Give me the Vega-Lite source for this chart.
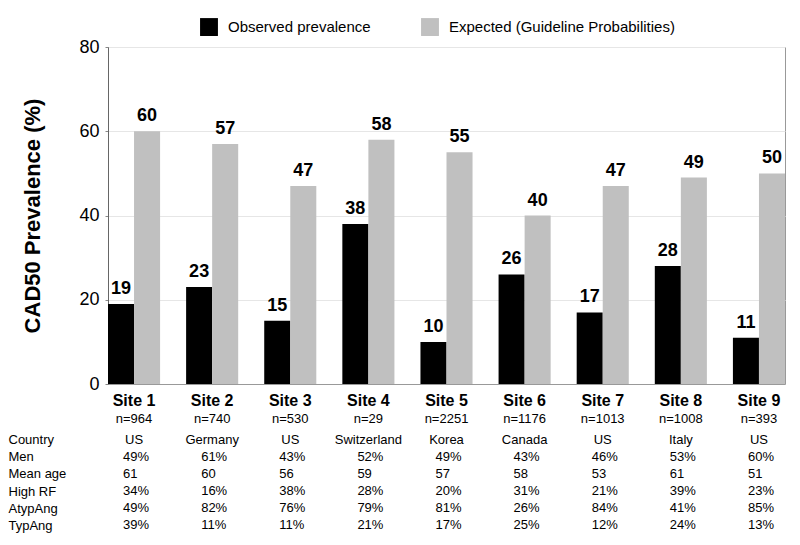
{
  "$schema": "https://vega.github.io/schema/vega-lite/v6.json",
  "padding": {"left": 8, "top": 18, "right": 5, "bottom": 5},
  "config": {
    "font": "Liberation Sans",
    "view": {"stroke": "#999"},
    "axis": {"labelColor": "#000", "titleColor": "#000"}
  },
  "spacing": 3,
  "vconcat": [
    {
      "width": 677,
      "height": 337,
      "data": {"values": [
        {"site": "Site 1", "series": "Observed prevalence", "value": 19},
        {"site": "Site 1", "series": "Expected (Guideline Probabilities)", "value": 60},
        {"site": "Site 2", "series": "Observed prevalence", "value": 23},
        {"site": "Site 2", "series": "Expected (Guideline Probabilities)", "value": 57},
        {"site": "Site 3", "series": "Observed prevalence", "value": 15},
        {"site": "Site 3", "series": "Expected (Guideline Probabilities)", "value": 47},
        {"site": "Site 4", "series": "Observed prevalence", "value": 38},
        {"site": "Site 4", "series": "Expected (Guideline Probabilities)", "value": 58},
        {"site": "Site 5", "series": "Observed prevalence", "value": 10},
        {"site": "Site 5", "series": "Expected (Guideline Probabilities)", "value": 55},
        {"site": "Site 6", "series": "Observed prevalence", "value": 26},
        {"site": "Site 6", "series": "Expected (Guideline Probabilities)", "value": 40},
        {"site": "Site 7", "series": "Observed prevalence", "value": 17},
        {"site": "Site 7", "series": "Expected (Guideline Probabilities)", "value": 47},
        {"site": "Site 8", "series": "Observed prevalence", "value": 28},
        {"site": "Site 8", "series": "Expected (Guideline Probabilities)", "value": 49},
        {"site": "Site 9", "series": "Observed prevalence", "value": 11},
        {"site": "Site 9", "series": "Expected (Guideline Probabilities)", "value": 50}
      ]},
      "encoding": {
        "x": {
          "field": "site", "type": "nominal", "sort": null,
          "scale": {"type": "band", "paddingInner": 0.3333, "paddingOuter": 0},
          "axis": {"title": null, "labelAngle": 0, "labelFontSize": 16, "labelFontWeight": "bold", "labelPadding": 8, "ticks": false, "domainColor": "#999"}
        },
        "xOffset": {"field": "series", "type": "nominal", "sort": ["Observed prevalence", "Expected (Guideline Probabilities)"]},
        "y": {
          "field": "value", "type": "quantitative",
          "scale": {"domain": [0, 80], "nice": false},
          "axis": {"title": "CAD50 Prevalence (%)", "titleFontSize": 22, "titleFontWeight": "bold", "titlePadding": 34, "values": [0, 20, 40, 60, 80], "labelFontSize": 18, "labelPadding": 6, "tickSize": 3, "tickColor": "#888", "domainColor": "#666", "gridColor": "#e6e6e6"}
        }
      },
      "layer": [
        {
          "mark": {"type": "bar"},
          "encoding": {
            "color": {
              "field": "series", "type": "nominal",
              "scale": {"domain": ["Observed prevalence", "Expected (Guideline Probabilities)"], "range": ["#000000", "#c0c0c0"]},
              "legend": {"title": null, "orient": "none", "legendX": 92, "legendY": -29, "direction": "horizontal", "symbolType": "square", "symbolSize": 320, "labelFontSize": 15, "labelLimit": 0, "columnPadding": 50, "labelOffset": 10, "symbolStrokeWidth": 0}
            }
          }
        },
        {
          "mark": {"type": "text", "baseline": "bottom", "dy": -6, "fontSize": 18, "fontWeight": "bold", "color": "#000"},
          "encoding": {"text": {"field": "value", "type": "quantitative"}}
        }
      ]
    },
    {
      "width": 677,
      "height": 103,
      "view": {"stroke": null},
      "data": {"values": [
        {"n": "n=964", "row": "Country", "value": "US"},
        {"n": "n=740", "row": "Country", "value": "Germany"},
        {"n": "n=530", "row": "Country", "value": "US"},
        {"n": "n=29", "row": "Country", "value": "Switzerland"},
        {"n": "n=2251", "row": "Country", "value": "Korea"},
        {"n": "n=1176", "row": "Country", "value": "Canada"},
        {"n": "n=1013", "row": "Country", "value": "US"},
        {"n": "n=1008", "row": "Country", "value": "Italy"},
        {"n": "n=393", "row": "Country", "value": "US"},
        {"n": "n=964", "row": "Men", "value": "49%"},
        {"n": "n=740", "row": "Men", "value": "61%"},
        {"n": "n=530", "row": "Men", "value": "43%"},
        {"n": "n=29", "row": "Men", "value": "52%"},
        {"n": "n=2251", "row": "Men", "value": "49%"},
        {"n": "n=1176", "row": "Men", "value": "43%"},
        {"n": "n=1013", "row": "Men", "value": "46%"},
        {"n": "n=1008", "row": "Men", "value": "53%"},
        {"n": "n=393", "row": "Men", "value": "60%"},
        {"n": "n=964", "row": "Mean age", "value": "61"},
        {"n": "n=740", "row": "Mean age", "value": "60"},
        {"n": "n=530", "row": "Mean age", "value": "56"},
        {"n": "n=29", "row": "Mean age", "value": "59"},
        {"n": "n=2251", "row": "Mean age", "value": "57"},
        {"n": "n=1176", "row": "Mean age", "value": "58"},
        {"n": "n=1013", "row": "Mean age", "value": "53"},
        {"n": "n=1008", "row": "Mean age", "value": "61"},
        {"n": "n=393", "row": "Mean age", "value": "51"},
        {"n": "n=964", "row": "High RF", "value": "34%"},
        {"n": "n=740", "row": "High RF", "value": "16%"},
        {"n": "n=530", "row": "High RF", "value": "38%"},
        {"n": "n=29", "row": "High RF", "value": "28%"},
        {"n": "n=2251", "row": "High RF", "value": "20%"},
        {"n": "n=1176", "row": "High RF", "value": "31%"},
        {"n": "n=1013", "row": "High RF", "value": "21%"},
        {"n": "n=1008", "row": "High RF", "value": "39%"},
        {"n": "n=393", "row": "High RF", "value": "23%"},
        {"n": "n=964", "row": "AtypAng", "value": "49%"},
        {"n": "n=740", "row": "AtypAng", "value": "82%"},
        {"n": "n=530", "row": "AtypAng", "value": "76%"},
        {"n": "n=29", "row": "AtypAng", "value": "79%"},
        {"n": "n=2251", "row": "AtypAng", "value": "81%"},
        {"n": "n=1176", "row": "AtypAng", "value": "26%"},
        {"n": "n=1013", "row": "AtypAng", "value": "84%"},
        {"n": "n=1008", "row": "AtypAng", "value": "41%"},
        {"n": "n=393", "row": "AtypAng", "value": "85%"},
        {"n": "n=964", "row": "TypAng", "value": "39%"},
        {"n": "n=740", "row": "TypAng", "value": "11%"},
        {"n": "n=530", "row": "TypAng", "value": "11%"},
        {"n": "n=29", "row": "TypAng", "value": "21%"},
        {"n": "n=2251", "row": "TypAng", "value": "17%"},
        {"n": "n=1176", "row": "TypAng", "value": "25%"},
        {"n": "n=1013", "row": "TypAng", "value": "12%"},
        {"n": "n=1008", "row": "TypAng", "value": "24%"},
        {"n": "n=393", "row": "TypAng", "value": "13%"}
      ]},
      "encoding": {
        "x": {
          "field": "n", "type": "nominal", "sort": null,
          "scale": {"type": "band", "paddingInner": 0.3333, "paddingOuter": 0},
          "axis": {"orient": "top", "title": null, "labelAngle": 0, "labelFontSize": 13, "labelPadding": 6, "ticks": false, "domain": false, "grid": false}
        },
        "y": {
          "field": "row", "type": "ordinal",
          "sort": ["Country", "Men", "Mean age", "High RF", "AtypAng", "TypAng"],
          "scale": {"type": "point", "padding": 0.5},
          "axis": {"title": null, "labelAlign": "left", "labelPadding": 100, "labelFontSize": 13, "ticks": false, "domain": false, "grid": false}
        }
      },
      "layer": [
        {
          "transform": [{"filter": "datum.row === 'Country'"}],
          "mark": {"type": "text", "align": "center", "fontSize": 13, "color": "#000"},
          "encoding": {"text": {"field": "value"}}
        },
        {
          "transform": [{"filter": "datum.row !== 'Country'"}],
          "mark": {"type": "text", "align": "left", "dx": -11, "fontSize": 13, "color": "#000"},
          "encoding": {"text": {"field": "value"}}
        }
      ]
    }
  ]
}
